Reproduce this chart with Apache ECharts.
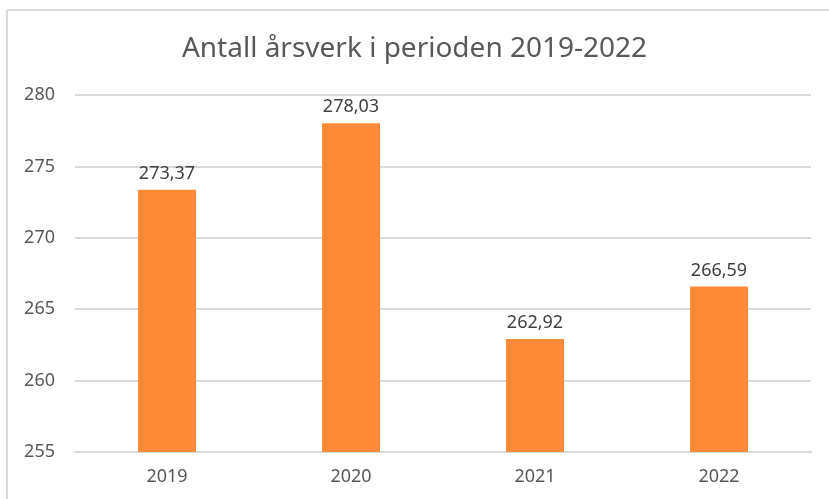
<!DOCTYPE html>
<html>
<head>
<meta charset="utf-8">
<script src="https://cdn.jsdelivr.net/npm/echarts@6/dist/echarts.min.js"></script>
<style>
  html, body { margin: 0; padding: 0; background: #fff; }
  #chart { width: 829px; height: 499px; }
</style>
</head>
<body>
<div id="chart"></div>
<script>
// data
const years = ['2019', '2020', '2021', '2022']
const aarsverk = [273.37, 278.03, 262.92, 266.59]
const yTicks = [255, 260, 265, 270, 275, 280]

const chart = echarts.init(document.getElementById('chart'))

const option = {
  animation: false,
  textStyle: { fontFamily: 'Noto Sans' },
  title: {
    text: 'Antall årsverk i perioden 2019-2022',
    left: 'center',
    top: 30,
    textStyle: { fontSize: 28, fontWeight: 'normal', color: '#595959', fontFamily: 'Noto Sans' }
  },
  // kantlinje oppe og til venstre
  graphic: [
    { type: 'line', shape: { x1: 7, y1: 10, x2: 829, y2: 10 }, style: { stroke: '#d9d9d9', lineWidth: 2 } },
    { type: 'line', shape: { x1: 7, y1: 10, x2: 7, y2: 499 }, style: { stroke: '#d9d9d9', lineWidth: 2 } }
  ],
  grid: { left: 75, right: 18, top: 95, bottom: 47 },
  xAxis: {
    type: 'category',
    data: years,
    axisTick: { show: false },
    axisLine: { lineStyle: { color: '#d9d9d9', width: 2 } },
    axisLabel: { color: '#595959', fontSize: 18, margin: 16 }
  },
  yAxis: {
    type: 'value',
    min: yTicks[0],
    max: yTicks[yTicks.length - 1],
    interval: 5,
    axisLine: { show: false },
    axisTick: { show: false },
    splitLine: { lineStyle: { color: '#d9d9d9', width: 2 } },
    axisLabel: { color: '#595959', fontSize: 18, margin: 20 }
  },
  series: [
    {
      type: 'bar',
      data: aarsverk,
      barWidth: '31.5%',
      itemStyle: { color: '#FF8B38' },
      label: {
        show: true,
        position: 'top',
        distance: 7,
        color: '#404040',
        fontSize: 18,
        formatter: p => p.value.toFixed(2).replace('.', ',')
      }
    }
  ]
}

chart.setOption(option)
</script>
</body>
</html>
